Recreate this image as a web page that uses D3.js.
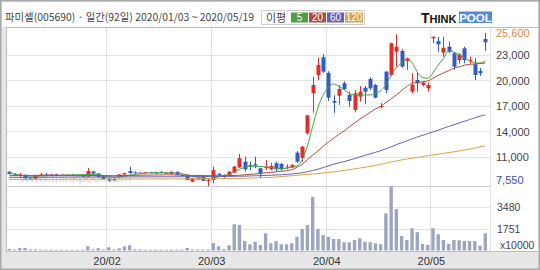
<!DOCTYPE html>
<html>
<head>
<meta charset="utf-8">
<script src="https://cdn.jsdelivr.net/npm/d3@7"></script>
<style>
body { margin: 0; background: #fff; }
svg { display: block; }
</style>
</head>
<body>
<svg id="chart"></svg>
<script>
// trading days 2020/01/03 ~ 2020/05/19 (92)
var days = [
	"01/03","01/06","01/07","01/08","01/09","01/10","01/13","01/14","01/15","01/16","01/17","01/20","01/21","01/22","01/23","01/28","01/29","01/30","01/31",
	"02/03","02/04","02/05","02/06","02/07","02/10","02/11","02/12","02/13","02/14","02/17","02/18","02/19","02/20","02/21","02/24","02/25","02/26","02/27","02/28",
	"03/02","03/03","03/04","03/05","03/06","03/09","03/10","03/11","03/12","03/13","03/16","03/17","03/18","03/19","03/20","03/23","03/24","03/25","03/26","03/27","03/30","03/31",
	"04/01","04/02","04/03","04/06","04/07","04/08","04/09","04/10","04/13","04/14","04/16","04/17","04/20","04/21","04/22","04/23","04/24","04/27","04/28","04/29",
	"05/04","05/06","05/07","05/08","05/11","05/12","05/13","05/14","05/15","05/18","05/19"
];

var open = [
	9250,9000,8800,8900,8450,8450,8800,8950,8900,8950,
	8900,8850,8900,8850,8800,8700,9300,9050,8750,8450,
	8400,8700,8950,9350,9200,9100,9150,9200,9200,9250,
	9100,9000,9250,8900,8850,8100,8400,8650,8250,8300,
	9000,8620,8800,9150,9790,10450,10050,10140,9670,9670,
	9550,10260,10180,9850,9790,11500,10850,13800,18500,20650,
	22730,20900,17590,18210,19670,18290,16530,18090,19150,20180,
	19470,16950,21040,20650,23390,23470,22290,18680,20060,19470,
	19080,24970,24650,23270,23980,23200,22410,23790,22400,21910,
	21120,24880
];
var high = [
	9350,9100,9150,8950,8650,8900,9100,9150,9000,9000,
	8950,8950,8950,8900,8850,9700,9350,9100,8800,8500,
	8500,9000,9150,9850,9300,9200,9250,9250,9250,9300,
	9200,9300,9300,8950,8900,8550,8550,8700,8450,9850,
	9150,8950,9350,9950,11350,11030,10450,11030,9700,10650,
	10300,10450,10300,10150,10150,11700,12300,15900,20450,22680,
	23100,21100,18290,19470,19900,18680,18880,19350,19350,20400,
	19600,17350,21100,24450,25440,23700,22700,20850,20850,19900,
	19760,25150,25150,25150,24560,23300,23200,23980,22800,22610,
	21470,25600
];
var low = [
	8950,8800,8650,8400,8300,8400,8750,8850,8850,8850,
	8800,8800,8800,8750,8700,8650,8950,8600,8350,8050,
	8200,8650,8900,9050,9050,9050,9100,9100,9000,9050,
	9050,8950,8850,8750,8250,8050,8350,8150,7550,7900,
	8800,8550,8750,9100,9700,9300,9470,9670,8500,9470,
	9450,9300,9400,9550,9700,10300,10450,13600,16200,20060,
	20900,17590,16180,17120,18900,16920,16260,17510,17240,18900,
	17900,16730,18500,20500,21620,21500,21240,18490,18680,19300,
	18680,24380,23390,22800,23200,21240,22000,22020,22000,20060,
	20530,23470
];
var close = [
	9000,8850,8950,8500,8400,8800,8950,8900,8950,8900,
	8850,8900,8850,8800,8750,9350,9050,8650,8400,8250,
	8250,8950,9100,9100,9100,9150,9200,9150,9050,9100,
	9150,9250,8900,8800,8300,8500,8450,8200,8300,9450,
	8880,8880,9270,9860,10850,9550,9950,9980,9080,9860,
	9940,9550,9550,9860,10060,10450,12210,15900,19470,21820,
	21040,17980,17390,19000,19000,17590,18490,18680,18680,19080,
	17980,17000,18880,24380,23980,21620,22610,19470,19670,19760,
	19470,25150,24260,23860,23390,21620,23080,22410,22400,20650,
	20850,24490
];
// volume, x10000 shares
var volume = [
	120,80,200,200,90,90,80,70,70,60,
	60,60,60,60,70,340,90,190,80,260,
	80,170,330,420,90,80,70,70,70,70,
	70,70,70,80,200,90,80,80,90,600,
	340,120,420,2100,2040,760,500,700,440,1380,
	580,760,500,500,580,1100,1720,2040,4300,1720,
	1240,1100,920,920,660,660,840,980,700,660,
	580,500,2980,5110,3320,1160,840,1780,1460,520,
	440,1780,1300,840,520,840,820,760,760,760,
	380,1380
];

// moving averages (day index, value)
var ma5Days = [0,4,8,12,16,20,24,28,32,36,38,40,42,44,46,48,50,52,
	54,55,56,57,58,59,60,61,62,63,64,65,66,67,68,69,70,71,72,73,74,75,76,77,78,79,80,81,82,83,84,85,86,87,88,89,90,91];
var ma5 = [9100,8750,8800,8880,8950,8600,8950,9150,9100,8600,8450,8660,8960,9550,9900,9880,9760,9600,
	9800,9950,10700,12300,14600,16800,18300,19200,19600,19300,18900,18450,18300,18300,18300,18300,18450,18800,19500,20600,21500,22050,22500,22100,21000,20350,20250,20900,21800,22600,23450,23350,23000,22650,22300,22100,22050,22300];
var ma20Days = [0,10,20,30,38,42,46,50,
	54,55,56,57,58,59,60,61,62,63,64,65,66,67,68,69,70,71,72,73,74,75,76,77,78,79,80,81,82,83,84,85,86,87,88,89,90,91];
var ma20 = [8800,8850,8800,8900,8800,8800,8950,9200,
	9500,9800,10150,10700,11200,11700,12250,12750,13200,13650,14050,14550,15000,15450,15850,16250,16650,16950,17400,17850,18300,18800,19300,19650,19750,19850,19950,20250,20600,20900,21150,21450,21600,21800,21900,21950,22000,22050];
var ma60Days = [0,20,40,50,54,56,58,60,62,64,66,68,70,72,74,76,78,80,82,84,86,88,90,91];
var ma60 = [8600,8650,8700,8850,9000,9150,9400,9750,10150,10450,10800,11200,11550,11950,12450,12900,13350,13750,14150,14600,15000,15400,15800,15950];
var ma120Days = [0,20,40,50,55,58,62,66,70,74,78,81,86,91];
var ma120 = [8350,8400,8450,8600,8850,9000,9250,9600,10000,10550,10950,11250,11700,12300];

var maNames = ["5","20","60","120"];
var maColors = ["#4e9e46","#b04b45","#6762b4","#d8a447"];

var priceTicks = [25600,23000,20000,17000,14000,11000,7550];
var priceGrid = [23000,20000,17000,14000,11000];
var volTicks = [3480,1751];
var monthDays = ["02/03","03/02","04/01","05/04"];
var monthLabels = ["20/02","20/03","20/04","20/05"];

var width = 540,
    height = 270;
var svg = d3.select("#chart").attr("width", width).attr("height", height);

var x = d3.scaleBand().domain(days).range([6.7, 487.9]);
var bw = x.bandwidth();
function xc(i) { return x(days[i]) + bw / 2; }
var y = d3.scaleLinear().domain([7550, 25600]).range([186.3, 32.9]);
var yv = d3.scaleLinear().domain([0, 5220]).range([250.5, 185.3]);

var font = "'Liberation Sans', Arial, sans-serif";

// frame and panels
svg.append("rect").attr("width", width).attr("height", height).attr("fill", "#e7e7e7");
svg.append("rect").attr("x", 2).attr("y", 2).attr("width", 536).attr("height", 25).attr("fill", "#fff");
svg.append("rect").attr("x", 6).attr("y", 27).attr("width", 532).attr("height", 224).attr("fill", "#fff");
svg.append("rect").attr("x", 0.75).attr("y", 0.75).attr("width", 538.5).attr("height", 268.5)
	.attr("fill", "none").attr("stroke", "#a9a9a9").attr("stroke-width", 1.5);
svg.append("line").attr("x1", 6).attr("x2", 538).attr("y1", 27.5).attr("y2", 27.5).attr("stroke", "#bdbdbd");
svg.append("line").attr("x1", 6.5).attr("x2", 6.5).attr("y1", 27).attr("y2", 251).attr("stroke", "#bdbdbd");
svg.append("line").attr("x1", 6).attr("x2", 490).attr("y1", 186.5).attr("y2", 186.5).attr("stroke", "#c8c8c8");
svg.append("line").attr("x1", 6).attr("x2", 538).attr("y1", 251.5).attr("y2", 251.5).attr("stroke", "#bdbdbd");
svg.append("line").attr("x1", 490.5).attr("x2", 490.5).attr("y1", 27).attr("y2", 251).attr("stroke", "#e2e2e2");

// grid
svg.selectAll(".pgrid").data(priceGrid).enter().append("line")
	.attr("x1", 7).attr("x2", 490).attr("y1", function(d) { return Math.round(y(d)) + 0.5; })
	.attr("y2", function(d) { return Math.round(y(d)) + 0.5; }).attr("stroke", "#e3e3e3");
svg.selectAll(".vgrid").data(volTicks).enter().append("line")
	.attr("x1", 7).attr("x2", 490).attr("y1", function(d) { return Math.round(yv(d)) + 0.5; })
	.attr("y2", function(d) { return Math.round(yv(d)) + 0.5; }).attr("stroke", "#e3e3e3");
svg.selectAll(".mgrid").data(monthDays).enter().append("line")
	.attr("x1", function(d) { return Math.round(x(d)) + 0.5; }).attr("x2", function(d) { return Math.round(x(d)) + 0.5; })
	.attr("y1", 28).attr("y2", 251).attr("stroke", "#e0e0e0");

// watermark
svg.append("text").text("www.thinkpool.com").attr("x", 20).attr("y", 182)
	.style("font-family", font).style("font-size", "13px").attr("fill", "#d6d4e2");

// volume bars
svg.selectAll(".vol").data(volume).enter().append("rect")
	.attr("x", function(d, i) { return xc(i) - 1.7; }).attr("width", 3.4)
	.attr("y", function(d) { return yv(d); }).attr("height", function(d) { return yv(0) - yv(d); })
	.attr("fill", "#9ea5c0");

// candles
var clip = svg.append("clipPath").attr("id", "pclip");
clip.append("rect").attr("x", 7).attr("y", 28).attr("width", 483).attr("height", 158);
var pg = svg.append("g").attr("clip-path", "url(#pclip)");

function candleColor(i) { return close[i] >= open[i] ? "#dc2f2b" : "#2f5ec0"; }

pg.selectAll(".wick").data(days).enter().append("line")
	.attr("x1", function(d, i) { return Math.round(xc(i)) + 0.5; })
	.attr("x2", function(d, i) { return Math.round(xc(i)) + 0.5; })
	.attr("y1", function(d, i) { return y(high[i]); })
	.attr("y2", function(d, i) { return y(low[i]); })
	.attr("stroke", function(d, i) { return candleColor(i); });
pg.selectAll(".body").data(days).enter().append("rect")
	.attr("x", function(d, i) { return Math.round(xc(i)) - 1.5; }).attr("width", 4)
	.attr("y", function(d, i) { return y(Math.max(open[i], close[i])); })
	.attr("height", function(d, i) { return Math.max(1, Math.abs(y(open[i]) - y(close[i]))); })
	.attr("fill", function(d, i) { return candleColor(i); });

// moving average lines
var line = d3.line().x(function(d) { return xc(d[0]); }).y(function(d) { return y(d[1]); }).curve(d3.curveMonotoneX);
[[ma5Days, ma5], [ma20Days, ma20], [ma60Days, ma60], [ma120Days, ma120]].forEach(function(m, k) {
	var pts = m[0].map(function(d, j) { return [d, m[1][j]]; });
	pg.append("path").attr("d", line(pts)).attr("fill", "none")
		.attr("stroke", maColors[k]).attr("stroke-width", 1);
});

// right labels
svg.selectAll(".plab").data(priceTicks).enter().append("text")
	.text(function(d) { return d3.format(",")(d); })
	.attr("x", 496).attr("y", function(d) { return Math.min(y(d) + 4.5, 184); })
	.style("font-family", font).style("font-size", "11px")
	.attr("fill", function(d, i) { return i == 0 ? "#e2873a" : (i == priceTicks.length - 1 ? "#3550a6" : "#444"); });
svg.selectAll(".vlab").data(volTicks).enter().append("text")
	.text(function(d) { return d; })
	.attr("x", 497).attr("y", function(d) { return yv(d) + 4; })
	.style("font-family", font).style("font-size", "10.5px").attr("fill", "#444");
svg.append("text").text("x10000").attr("x", 500).attr("y", 249)
	.style("font-family", font).style("font-size", "10.5px").attr("fill", "#444");

// month labels
svg.selectAll(".mlab").data(monthDays).enter().append("text")
	.text(function(d, i) { return monthLabels[i]; })
	.attr("x", function(d) { return x(d) + 1; }).attr("y", 265).attr("text-anchor", "middle")
	.style("font-family", font).style("font-size", "11px").attr("fill", "#333");

// header
svg.append("text").text("파미셀(005690) · 일간(92일) 2020/01/03 ~ 2020/05/19")
	.attr("x", 5).attr("y", 21).attr("textLength", 249).attr("lengthAdjust", "spacingAndGlyphs")
	.style("font-family", "'Noto Sans CJK KR', sans-serif").style("font-size", "10.5px").attr("fill", "#444");

// legend
svg.append("rect").attr("x", 261.5).attr("y", 10.5).attr("width", 103).attr("height", 14)
	.attr("fill", "#fff").attr("stroke", "#cfcfcf");
svg.append("text").text("이평").attr("x", 266).attr("y", 21.5)
	.style("font-family", "'Noto Sans CJK KR', sans-serif").style("font-size", "11px").attr("fill", "#444");
var lx = [291, 309, 327, 345];
var lw = [17, 17, 17, 18];
maNames.forEach(function(n, k) {
	svg.append("rect").attr("x", lx[k]).attr("y", 12.5).attr("width", lw[k]).attr("height", 10).attr("fill", maColors[k]);
	svg.append("text").text(n).attr("x", lx[k] + lw[k] / 2).attr("y", 21.3).attr("text-anchor", "middle")
		.style("font-family", font).style("font-size", "10px").attr("fill", "#fff");
});

// logo
var logo = svg.append("text").attr("x", 421).attr("y", 22.5)
	.style("font-family", font).style("font-weight", "900").attr("fill", "#111");
logo.append("tspan").text("T").style("font-size", "14px");
logo.append("tspan").text("HINK").style("font-size", "11px");
svg.append("rect").attr("x", 459).attr("y", 11.5).attr("width", 33).attr("height", 11.5).attr("fill", "#5288de");
svg.append("text").text("POOL").attr("x", 475.5).attr("y", 22).attr("text-anchor", "middle")
	.style("font-family", font).style("font-weight", "900").style("font-size", "11.5px").attr("fill", "#fff");
</script>
</body>
</html>
